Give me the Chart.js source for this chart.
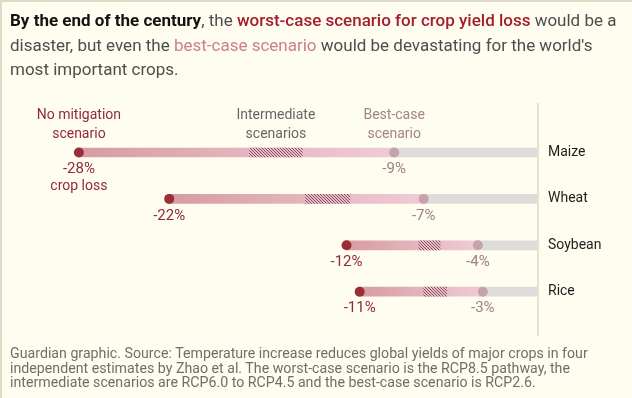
<!DOCTYPE html>
<html>
<head>
<meta charset="utf-8">
<script src="https://cdn.jsdelivr.net/npm/chart.js@4"></script>
<style>
  html, body { margin: 0; padding: 0; background: #fffdf0; }
  #wrap { position: relative; width: 632px; height: 398px; overflow: hidden; background: #fffdf0; }
  #topline { position: absolute; left: 0; top: 0; width: 632px; height: 2px; background: #dcdcc6; }
  #leftline { position: absolute; left: 0; top: 0; width: 2px; height: 398px; background: #dcdcc6; }
  #title { position: absolute; left: 10px; top: 8px; font: 17px Roboto, sans-serif; line-height: 24.5px; color: #4d4d4d; white-space: nowrap; }
  #title b { color: #121212; }
  #title .worst { color: #a31d2f; font-weight: 500; }
  #title .best { color: #c97f91; }
  #note { position: absolute; left: 10px; top: 346px; font: 14.2px Roboto, sans-serif; line-height: 14.6px; color: #6e6e6e; white-space: nowrap; }
  canvas { position: absolute; left: 0; top: 0; }
</style>
</head>
<body>
<div id="wrap">
  <canvas id="chart" width="632" height="398"></canvas>
  <div id="topline"></div>
  <div id="leftline"></div>
  <div id="title"><b>By the end of the century</b>, the <span class="worst">worst-case scenario for crop yield loss</span> would be a<br>disaster, but even the <span class="best">best-case scenario</span> would be devastating for the world's<br>most important crops.</div>
  <div id="note">Guardian graphic. Source: Temperature increase reduces global yields of major crops in four<br>independent estimates by Zhao et al. The worst-case scenario is the RCP8.5 pathway, the<br>intermediate scenarios are RCP6.0 to RCP4.5 and the best-case scenario is RCP2.6.</div>
</div>
<script>
// Dane: zmiana plonów (%) dla każdej uprawy
const crops = ["Maize", "Wheat", "Soybean", "Rice"];
const worstCase = [-27.9, -22.4, -11.6, -10.8];
const bestCase = [-8.7, -6.9, -3.6, -3.3];
const intermediateLow = [-17.5, -14.1, -7.2, -6.9];
const intermediateHigh = [-14.3, -11.4, -5.9, -5.5];

const FONT = "Roboto, sans-serif";

// Wzór kreskowania dla scenariuszy pośrednich
function makeHatch() {
  const c = document.createElement("canvas");
  c.width = 3; c.height = 3;
  const g = c.getContext("2d");
  g.fillStyle = "#e6bcc6";
  g.fillRect(0, 0, 3, 3);
  g.strokeStyle = "#86505e";
  g.lineWidth = 1;
  g.beginPath();
  g.moveTo(-1, -1); g.lineTo(4, 4);
  g.moveTo(-1, 2); g.lineTo(1, 4);
  g.moveTo(2, -1); g.lineTo(4, 1);
  g.stroke();
  return g.createPattern(c, "repeat");
}

// Gradient od scenariusza najgorszego do najlepszego
function rangeGradient(ctx) {
  const chart = ctx.chart;
  const xs = chart.scales.x;
  if (!xs || ctx.dataIndex === undefined) return "#dfaab2";
  const x0 = xs.getPixelForValue(worstCase[ctx.dataIndex]);
  const x1 = xs.getPixelForValue(bestCase[ctx.dataIndex]);
  if (!isFinite(x0) || !isFinite(x1)) return "#dfaab2";
  const gr = chart.ctx.createLinearGradient(x0, 0, x1, 0);
  gr.addColorStop(0, "#d69ca2");
  gr.addColorStop(1, "#f0cbd7");
  return gr;
}

// Etykiety, nazwy upraw i linia zera
const labelsPlugin = {
  id: "labels",
  beforeDatasetsDraw(chart) {
    const { ctx, scales: { x } } = chart;
    const x0 = x.getPixelForValue(0) + 1;
    ctx.save();
    ctx.strokeStyle = "#e4e2d6";
    ctx.lineWidth = 2;
    ctx.beginPath();
    ctx.moveTo(x0, 103);
    ctx.lineTo(x0, 336);
    ctx.stroke();
    ctx.restore();
  },
  afterDatasetsDraw(chart) {
    const { ctx, scales: { x, y } } = chart;
    ctx.save();
    ctx.textAlign = "center";
    ctx.textBaseline = "middle";
    crops.forEach((crop, i) => {
      const yy = y.getPixelForValue(i);
      ctx.font = "15px " + FONT;
      ctx.fillStyle = "#8e2b36";
      ctx.fillText(Math.round(worstCase[i]) + "%", x.getPixelForValue(worstCase[i]), yy + 17);
      ctx.fillStyle = "#9e8086";
      ctx.fillText(Math.round(bestCase[i]) + "%", x.getPixelForValue(bestCase[i]), yy + 17);
      ctx.font = "14px " + FONT;
      ctx.fillStyle = "#1e1e1e";
      ctx.textAlign = "left";
      ctx.fillText(crop, x.getPixelForValue(0) + 11, yy);
      ctx.textAlign = "center";
    });
    // opisy nad pierwszym wierszem
    const y0 = y.getPixelForValue(0);
    ctx.font = "14px " + FONT;
    ctx.fillStyle = "#8e2b36";
    ctx.fillText("crop loss", x.getPixelForValue(worstCase[0]), y0 + 34);
    ctx.fillText("No mitigation", x.getPixelForValue(worstCase[0]), y0 - 37);
    ctx.fillText("scenario", x.getPixelForValue(worstCase[0]), y0 - 18);
    const xm = (x.getPixelForValue(intermediateLow[0]) + x.getPixelForValue(intermediateHigh[0])) / 2;
    ctx.fillStyle = "#666666";
    ctx.fillText("Intermediate", xm, y0 - 37);
    ctx.fillText("scenarios", xm, y0 - 18);
    ctx.fillStyle = "#a2848a";
    ctx.fillText("Best-case", x.getPixelForValue(bestCase[0]), y0 - 37);
    ctx.fillText("scenario", x.getPixelForValue(bestCase[0]), y0 - 18);
    ctx.restore();
  }
};

function initChart() {
  const ctx = document.getElementById("chart").getContext("2d");
  const hatch = makeHatch();
  new Chart(ctx, {
    type: "bar",
    data: {
      labels: crops,
      datasets: [
        {
          type: "scatter",
          data: worstCase.map((v, i) => ({ x: v, y: crops[i] })),
          backgroundColor: "#9b2d39",
          pointRadius: 5,
          borderWidth: 0,
          order: 1
        },
        {
          type: "scatter",
          data: bestCase.map((v, i) => ({ x: v, y: crops[i] })),
          backgroundColor: "#c6a2a9",
          pointRadius: 5,
          borderWidth: 0,
          order: 1
        },
        {
          data: intermediateLow.map((v, i) => [v, intermediateHigh[i]]),
          backgroundColor: hatch,
          barThickness: 9,
          grouped: false,
          order: 2
        },
        {
          data: worstCase.map((v, i) => [v, bestCase[i]]),
          backgroundColor: rangeGradient,
          barThickness: 9,
          grouped: false,
          order: 3
        },
        {
          data: bestCase.map(v => [v, 0]),
          backgroundColor: "#dedcda",
          barThickness: 9,
          grouped: false,
          order: 4
        }
      ]
    },
    options: {
      indexAxis: "y",
      responsive: false,
      animation: false,
      layout: { padding: { left: 44.4, right: 95, top: 129.3, bottom: 83.1 } },
      scales: {
        x: { type: "linear", min: -30, max: 0, display: false },
        y: { type: "category", display: false, offset: true }
      },
      plugins: { legend: { display: false }, tooltip: { enabled: false } }
    },
    plugins: [labelsPlugin]
  });
}

document.addEventListener("DOMContentLoaded", initChart);
</script>
</body>
</html>
